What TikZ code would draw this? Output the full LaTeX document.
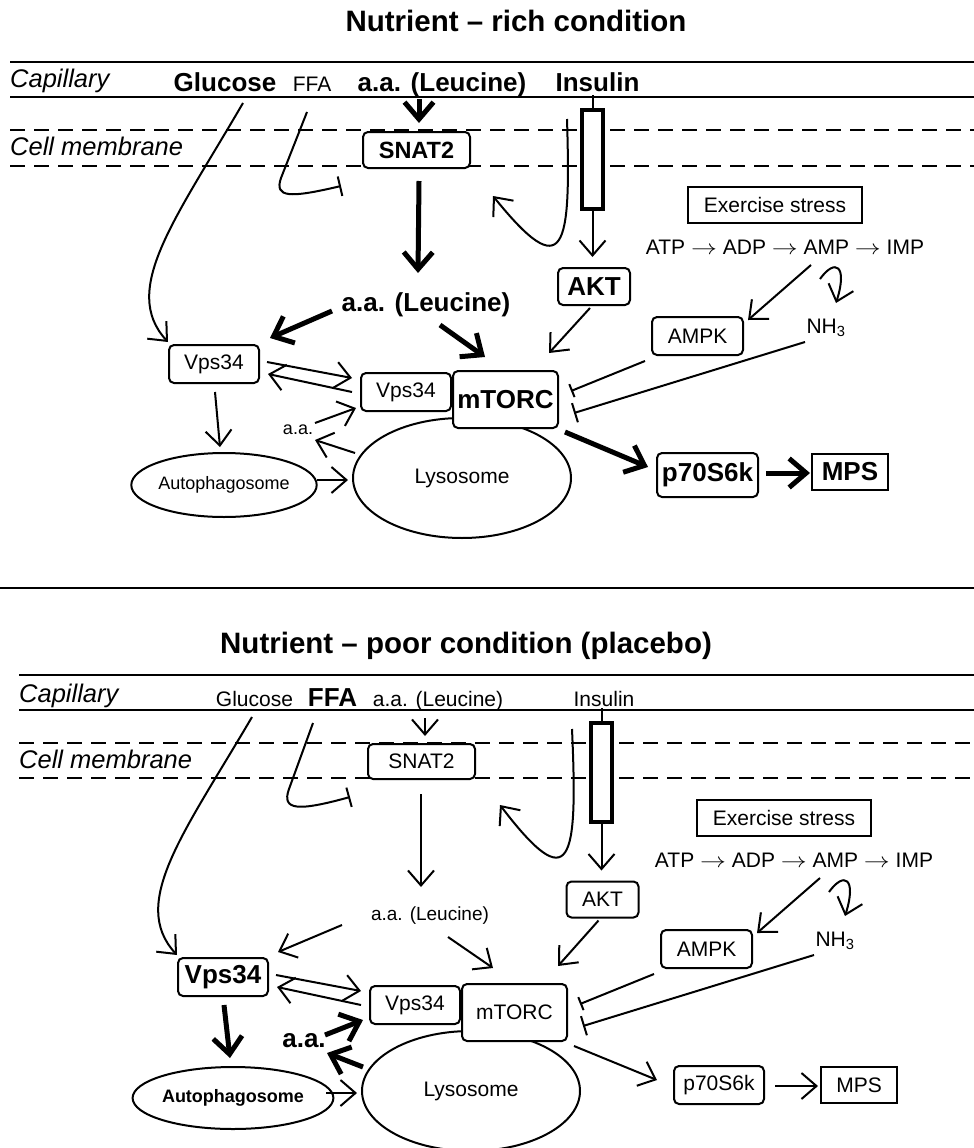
\documentclass[tikz,border=0pt]{standalone}
\usepackage{graphicx}
\usepackage{fontspec}
\setmainfont{Liberation Sans}
\usetikzlibrary{arrows.meta,shapes.geometric,calc}
\newcommand\zzN{\fontsize{21}{25}\selectfont}
\newcommand\zzB{\fontsize{26}{30}\selectfont\bfseries}
\newcommand\zzM{\fontsize{23.5}{28}\selectfont\bfseries}
\newcommand\zzS{\fontsize{18}{22}\selectfont}
\newcommand\zzSB{\fontsize{18}{22}\selectfont\bfseries}
\newcommand\zzL{\fontsize{19}{23}\selectfont}
\newcommand\zzI{\fontsize{25.5}{30}\selectfont\itshape}
\newcommand\zzT{\fontsize{29.5}{34}\selectfont\bfseries}
\newcommand\zzarr{\scalebox{1.25}[1]{$\rightarrow$}}
\tikzset{
  txt/.style={inner sep=0pt, font=\zzN},
  box/.style={draw, line width=2pt, rounded corners=5pt, fill=white, inner sep=0pt,
    minimum width=90pt, minimum height=38pt, font=\zzN},
  sqbox/.style={draw, line width=2pt, fill=white, inner sep=0pt, font=\zzN},
  oval/.style={draw, ellipse, line width=2pt, inner sep=0pt, font=\zzN},
  recep/.style={draw, line width=4pt, fill=white, inner sep=0pt, minimum width=21pt, minimum height=99pt},
  thinA/.style={line width=2pt, -{Straight Barb[length=15pt,width=26pt]}},
  thickA/.style={line width=5pt, -{Straight Barb[length=17pt,width=29pt]}},
  inh/.style={line width=2pt, -{Bar[width=20pt]}},
  inhs/.style={line width=2pt, -{Bar[width=14pt]}},
  memline/.style={line width=2.2pt},
  dashline/.style={line width=2.2pt, dash pattern=on 15pt off 9pt},
}
\begin{document}
\begin{tikzpicture}[x=1pt,y=-1pt]
\useasboundingbox (0,0) rectangle (974,1148);
\fill[white] (0,0) rectangle (974,1148);

% ================= TOP PANEL =================
\node[font=\zzT,inner sep=0pt,anchor=base] (ttitle) at (516,32) {Nutrient – rich condition};
\draw[memline] (10,62) -- (974,62);
\draw[memline] (10,97) -- (974,97);
\draw[dashline] (10,130) -- (974,130);
\draw[dashline] (10,166) -- (974,166);

\node[txt,font=\zzI,anchor=base west] (tcap) at (10,88) {Capillary};
\node[txt,font=\zzI,anchor=base west] (tcell) at (10,155) {Cell membrane};
\node[txt,font=\zzB,anchor=base] (tglu) at (225,92) {Glucose};
\node[txt,anchor=base] (tffa) at (312,92) {FFA};
\node[txt,font=\zzB,anchor=base] (taa) at (442,92) {a.a. (Leucine)};
\node[txt,font=\zzB,anchor=base] (tins) at (597.5,92) {Insulin};

\node[box,font=\zzM,minimum width=107pt,minimum height=36pt] (tsnat) at (416.5,150) {SNAT2};
\node[recep] (trec) at (592.5,159.5) {};
\draw[line width=2pt] (trec.north) -- ++(0,-13);
\node[box,font=\zzB,minimum width=72pt,minimum height=37pt] (takt) at (594,286.5) {AKT};
\node[sqbox,minimum width=174pt,minimum height=36pt] (tex) at (775,205) {Exercise stress};
\node[txt] (tatp) at (785,247) {ATP \zzarr{} ADP \zzarr{} AMP \zzarr{} IMP};
\node[box,minimum width=91pt] (tampk) at (697.5,336) {AMPK};
\node[txt] (tnh) at (826,328) {NH\textsubscript{3}};
\node[oval,minimum width=218pt,minimum height=120pt] (tlys) at (462,478) {Lysosome};
\node[box,font=\zzB,minimum width=105pt,minimum height=57pt] (tmtor) at (505.5,399.5) {mTORC};
\node[box] (tvpsr) at (406,392) {Vps34};
\node[box] (tvpsl) at (214,364) {Vps34};
\node[txt,font=\zzB] (taam) at (426,305) {a.a. (Leucine)};
\node[txt,font=\zzS] (taas) at (298,430) {a.a.};
\node[oval,font=\zzS,minimum width=174pt,minimum height=64pt] (tauto) at (224,485) {Autophagosome};
\node[box,font=\zzB,minimum width=101pt,minimum height=44pt] (tp70) at (707.5,475) {p70S6k};
\node[sqbox,font=\zzB,minimum width=76pt,minimum height=36pt] (tmps) at (850,472) {MPS};

\draw[thinA] ($(tglu.base)+(18,11)$) .. controls (175,220) and (120,290) .. ($(tvpsl)+(-46,-22)$);
\draw[inh] ($(tffa.base)+(-5,20)$) -- (281,178) .. controls (274,198) and (290,198) .. ($(tsnat)+(-75.5,36)$);
\draw[thickA] ($(taa.base)+(-23,7)$) -- ($(tsnat.north)+(2.5,-8)$);
\draw[thickA] ($(tsnat.south)+(2.5,12)$) -- ($(taam)+(-8,-32)$);
\draw[thickA] ($(taam)+(-94,6)$) -- ($(tvpsl)+(56,-26)$);
\draw[thickA] ($(taam)+(14,20)$) -- ($(tmtor)+(-20.5,-42.5)$);
\draw[thinA] ($(tvpsl)+(53,-2)$) -- ($(tvpsr)+(-54,-14)$);
\draw[thinA] ($(tvpsr)+(-54,0)$) -- ($(tvpsl)+(54,10)$);
\draw[thinA] ($(tvpsl)+(1,28)$) -- ($(tauto)+(-4,-38)$);
\draw[thinA] ($(tauto)+(93,-5)$) -- ($(tlys)+(-114,2)$);
\draw[thinA] ($(tlys)+(-107,-25)$) -- ($(taas)+(17,10)$);
\draw[thinA] ($(taas)+(17,-7)$) -- ($(tvpsr)+(-50,16)$);
\draw[thinA,shorten >=10pt] (trec.south) -- (trec.south |- takt.north);
\draw[thinA] ($(trec)+(-25.5,-40.5)$) .. controls (571,250) and (565,285) .. ($(tsnat)+(76.5,46)$);
\draw[thinA] ($(takt.south)+(-4,2)$) -- ($(tmtor)+(43.5,-46.5)$);
\draw[thinA] ($(tatp)+(26,18)$) -- ($(tampk)+(50.5,-16)$);
\draw[thinA] ($(tatp)+(35,32)$) .. controls (835,258) and (848,265) .. ($(tnh)+(10,-25)$);
\draw[inhs] ($(tampk)+(-52.5,25)$) -- ($(tmtor)+(65.5,-8.5)$);
\draw[inh] ($(tnh)+(-21,14)$) -- ($(tmtor)+(68.5,13.5)$);
\draw[thickA] ($(tmtor)+(59.5,32.5)$) -- ($(tp70)+(-59.5,-8)$);
\draw[thickA] ($(tp70)+(58.5,-2)$) -- ($(tmps)+(-40,1)$);

% separator
\draw[line width=2.5pt] (0,588) -- (974,588);

% ================= BOTTOM PANEL =================
\node[font=\zzT,inner sep=0pt,anchor=base] (btitle) at (466,653) {Nutrient – poor condition (placebo)};
\begin{scope}[shift={(9,613)}]
\draw[memline] (10,62) -- (965,62);
\draw[memline] (10,97) -- (965,97);
\draw[dashline] (10,130) -- (965,130);
\draw[dashline] (10,165) -- (965,165);

\node[txt,font=\zzI,anchor=base west] (bcap) at (10,89) {Capillary};
\node[txt,font=\zzI,anchor=base west] (bcell) at (10,155) {Cell membrane};
\node[txt,anchor=base] (bglu) at (245.5,93.5) {Glucose};
\node[txt,font=\zzB,anchor=base] (bffa) at (323.5,93.5) {FFA};
\node[txt,anchor=base] (baa) at (429,93.5) {a.a. (Leucine)};
\node[txt,anchor=base] (bins) at (595,93.5) {Insulin};

\node[box,minimum width=107pt,minimum height=35pt] (bsnat) at (412.5,148.5) {SNAT2};
\node[recep] (brec) at (592.5,159.5) {};
\draw[line width=2pt] (brec.north) -- ++(0,-13);
\node[box,minimum width=72pt,minimum height=36pt] (bakt) at (593.5,286.5) {AKT};
\node[sqbox,minimum width=174pt,minimum height=36pt] (bex) at (775,205) {Exercise stress};
\node[txt] (batp) at (785,247) {ATP \zzarr{} ADP \zzarr{} AMP \zzarr{} IMP};
\node[box,minimum width=91pt] (bampk) at (697.5,336) {AMPK};
\node[txt] (bnh) at (826,328) {NH\textsubscript{3}};
\node[oval,minimum width=218pt,minimum height=120pt] (blys) at (462,478) {Lysosome};
\node[box,minimum width=105pt,minimum height=57pt] (bmtor) at (505.5,399.5) {mTORC};
\node[box] (bvpsr) at (406,392) {Vps34};
\node[box,font=\zzB] (bvpsl) at (214,364) {Vps34};
\node[txt,font=\zzL] (baam) at (421,303) {a.a. (Leucine)};
\node[txt,font=\zzB] (baas) at (295,428) {a.a.};
\node[oval,font=\zzSB,minimum width=174pt,minimum height=62pt] (bauto) at (224,485) {Autophagosome};
\node[box] (bp70) at (710,472) {p70S6k};
\node[sqbox,minimum width=76pt,minimum height=36pt] (bmps) at (850,472) {MPS};

\draw[thinA] ($(bglu.base)+(-2.5,10.5)$) .. controls (175,220) and (120,290) .. ($(bvpsl)+(-46,-22)$);
\draw[inh] ($(bffa.base)+(-19.5,16.5)$) -- (280,176) .. controls (272,198) and (290,198) .. ($(bsnat)+(-71.5,35.5)$);
\draw[thinA] ($(baa.base)+(-13,11.5)$) -- ($(bsnat.north)+(3.5,-7)$);
\draw[thinA] ($(bsnat.south)+(-0.5,14)$) -- ($(baam)+(-9,-29)$);
\draw[thinA] ($(baam)+(-88,9)$) -- ($(bvpsl)+(55,-25)$);
\draw[thinA] ($(baam)+(18,21)$) -- ($(bmtor)+(-21.5,-44.5)$);
\draw[thinA] ($(bvpsl)+(53,-2)$) -- ($(bvpsr)+(-54,-14)$);
\draw[thinA] ($(bvpsr)+(-54,0)$) -- ($(bvpsl)+(54,10)$);
\draw[thickA] ($(bvpsl)+(1,28)$) -- ($(bauto)+(-3,-40)$);
\draw[thinA] ($(bauto)+(93,-5)$) -- ($(blys)+(-114,2)$);
\draw[thickA] ($(blys)+(-108,-24)$) -- ($(baas)+(23,12)$);
\draw[thickA] ($(baas)+(21,-6)$) -- ($(bvpsr)+(-52,15)$);
\draw[thinA,shorten >=10pt] (brec.south) -- (brec.south |- bakt.north);
\draw[thinA] ($(brec)+(-29.5,-43.5)$) .. controls (569,250) and (562,285) .. ($(bsnat)+(78.5,43.5)$);
\draw[thinA] ($(bakt.south)+(-4,2)$) -- ($(bmtor)+(43.5,-46.5)$);
\draw[thinA] ($(batp)+(26,18)$) -- ($(bampk)+(50.5,-16)$);
\draw[thinA] ($(batp)+(35,32)$) .. controls (835,258) and (848,265) .. ($(bnh)+(10,-25)$);
\draw[inhs] ($(bampk)+(-52.5,25)$) -- ($(bmtor)+(65.5,-8.5)$);
\draw[inh] ($(bnh)+(-21,14)$) -- ($(bmtor)+(68.5,13.5)$);
\draw[thinA] ($(bmtor)+(59.5,33.5)$) -- ($(bp70)+(-62,-5)$);
\draw[thinA] ($(bp70)+(56,1)$) -- ($(bmps)+(-41,1)$);
\end{scope}
\end{tikzpicture}
\end{document}
